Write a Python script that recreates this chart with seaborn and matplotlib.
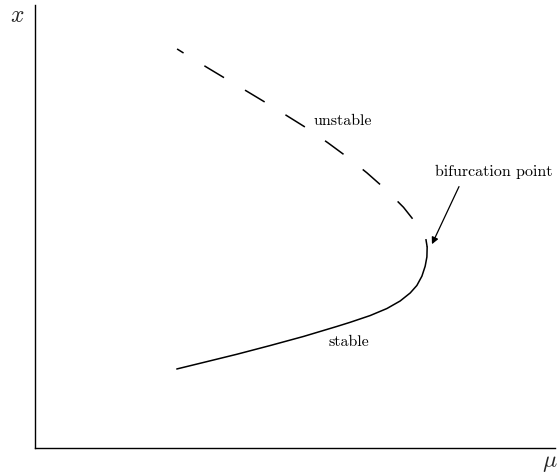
import pandas as pd
import matplotlib.pyplot as plt
import seaborn as sns

# stable branch (lower, solid)
stable_mu = [2.725, 3.237, 3.879, 4.519, 5.160, 5.802, 6.058, 6.442, 6.763, 7.019,
             7.212, 7.340, 7.437, 7.500, 7.533, 7.538]
stable_x = [1.783, 1.930, 2.115, 2.312, 2.517, 2.743, 2.837, 2.989, 3.147, 3.318,
            3.499, 3.668, 3.878, 4.104, 4.312, 4.537]

# unstable branch (upper, dashed), from the far end down to the fold
unstable_mu = [2.731, 2.885, 3.308, 3.692, 4.096, 4.462, 4.865, 5.250, 5.635, 6.000,
               6.379, 6.731, 7.083, 7.352, 7.510, 7.538]
unstable_x = [9.007, 8.894, 8.589, 8.318, 8.036, 7.777, 7.483, 7.201, 6.885, 6.569,
              6.212, 5.847, 5.433, 5.034, 4.740, 4.537]

stable = pd.DataFrame({"mu": stable_mu, "x": stable_x})
unstable = pd.DataFrame({"mu": unstable_mu, "x": unstable_x})

sns.set_style("white")
plt.rcParams["mathtext.fontset"] = "cm"

fig = plt.figure(figsize=(5.6, 4.73), dpi=100)
ax = fig.add_axes([0.0625, 0.0529, 0.929, 0.9366])

sns.lineplot(data=stable, x="mu", y="x", sort=False, color="black", linewidth=1.1, ax=ax)
sns.lineplot(data=unstable, x="mu", y="x", sort=False, color="black", linewidth=1.1, ax=ax)
ax.lines[-1].set_linestyle((10, (15, 16)))
for ln in ax.lines:
    ln.set_solid_joinstyle("round")
    ln.set_dash_joinstyle("round")

ax.set_xlim(0, 10)
ax.set_ylim(0, 10)
ax.set_xticks([])
ax.set_yticks([])
ax.set_xlabel("")
ax.set_ylabel("")
for side in ["top", "right"]:
    ax.spines[side].set_visible(False)
for side in ["left", "bottom"]:
    ax.spines[side].set_color("black")
    ax.spines[side].set_linewidth(1.0)

serif = dict(family="cmr10", fontsize=11.5, color="black")
ax.text(5.92, 7.38, "unstable", ha="center", va="center", **serif)
ax.text(6.04, 2.38, "stable", ha="center", va="center", **serif)
ax.text(8.81, 6.23, "bifurcation point", ha="center", va="center", **serif)
ax.annotate("", xy=(7.63, 4.60), xytext=(8.15, 5.90),
            arrowprops=dict(arrowstyle="-|>", color="black", lw=0.9,
                            mutation_scale=10, shrinkA=0, shrinkB=0))

fig.text(17 / 560, 1 - 15 / 473, "$x$", fontsize=17, ha="center", va="center")
fig.text(550 / 560, 1 - 462 / 473, r"$\mu$", fontsize=17, ha="center", va="center")

fig.savefig("out.png", dpi=100)
